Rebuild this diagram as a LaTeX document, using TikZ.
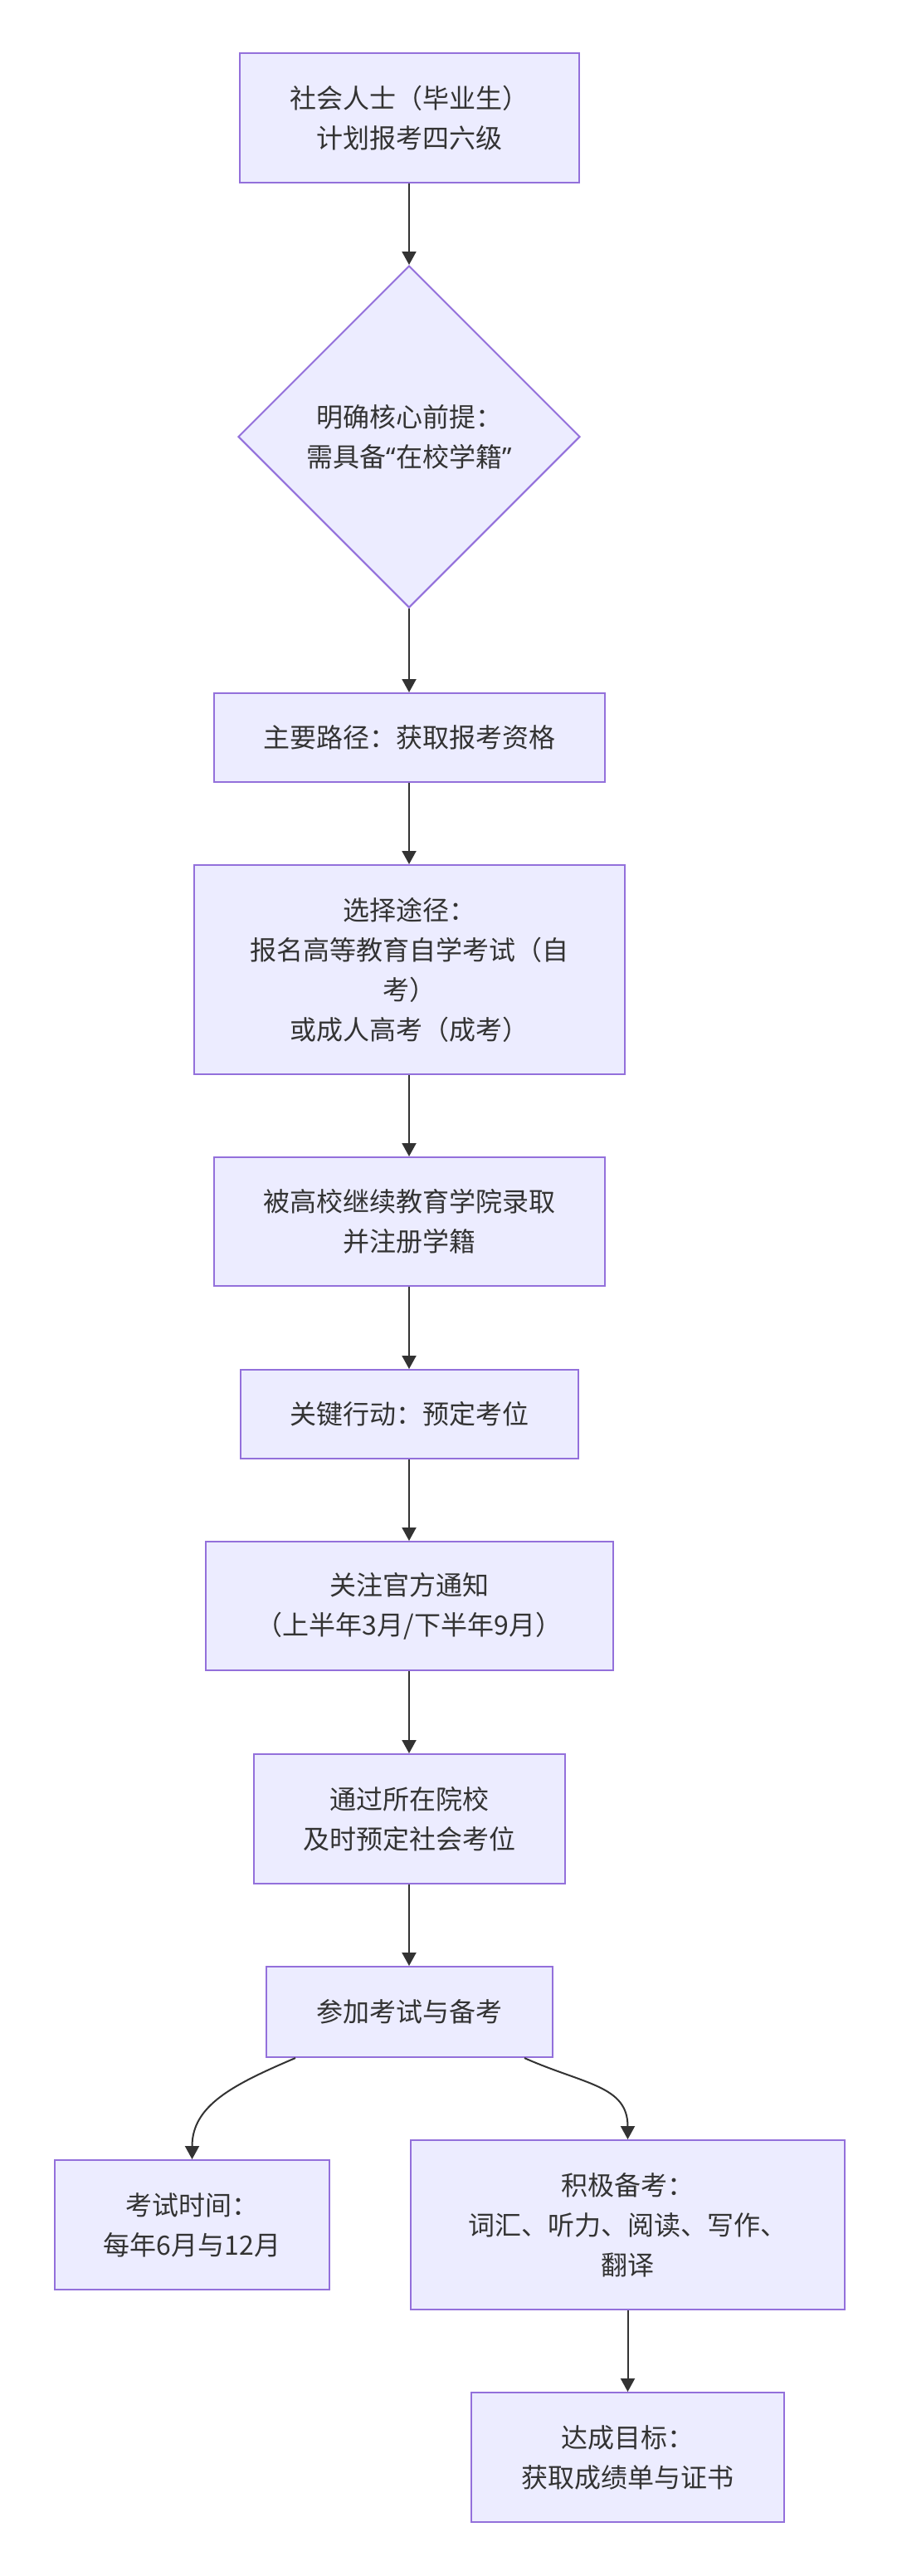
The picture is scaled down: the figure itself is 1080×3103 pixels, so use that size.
\documentclass[tikz,border=0pt]{standalone}
\usepackage{fontspec}
\newfontfamily\cjk{Noto Sans CJK SC}
\newfontfamily\latq{Noto Sans}
\usetikzlibrary{shapes.geometric,arrows.meta}
\definecolor{boxfill}{HTML}{ECECFF}
\definecolor{boxline}{HTML}{9370DB}
\definecolor{txtc}{HTML}{333333}
\definecolor{edgec}{HTML}{333333}
\begin{document}
\begin{tikzpicture}[x=1pt,y=-1pt,
 box/.style={draw=boxline, fill=boxfill, line width=2pt, text=txtc,
   font=\cjk\fontsize{32}{48}\selectfont, align=center, inner sep=0pt, rectangle},
 dia/.style={box, diamond, aspect=1},
 link/.style={draw=edgec, line width=2pt, -{Triangle[length=16pt,width=17pt]}}]
\path[use as bounding box, fill=white] (0,0) rectangle (1080,3103);

\node[box, minimum width=409pt, minimum height=156pt] (n1) at (493,142) {社会人士（毕业生）\\计划报考四六级};
\node[dia, minimum width=412pt, minimum height=412pt] (n2) at (493,526) {明确核心前提：\\需具备{\latq “}在校学籍{\latq ”}};
\node[box, minimum width=471pt, minimum height=107pt] (n3) at (493,888.5) {主要路径：获取报考资格};
\node[box, minimum width=519pt, minimum height=252pt] (n4) at (493,1168) {选择途径：\\报名高等教育自学考试（自\\考）\\或成人高考（成考）};
\node[box, minimum width=471pt, minimum height=155pt] (n5) at (493,1471.5) {被高校继续教育学院录取\\并注册学籍};
\node[box, minimum width=407pt, minimum height=107pt] (n6) at (493,1703.5) {关键行动：预定考位};
\node[box, minimum width=491pt, minimum height=155pt] (n7) at (493,1934.5) {关注官方通知\\（上半年3月/下半年9月）};
\node[box, minimum width=375pt, minimum height=156pt] (n8) at (493,2191) {通过所在院校\\及时预定社会考位};
\node[box, minimum width=345pt, minimum height=109pt] (n9) at (493,2423.5) {参加考试与备考};
\node[box, minimum width=331pt, minimum height=156pt] (n10) at (231.5,2680) {考试时间：\\每年6月与12月};
\node[box, minimum width=523pt, minimum height=204pt] (n11) at (756.5,2680) {积极备考：\\词汇、听力、阅读、写作、\\翻译};
\node[box, minimum width=377pt, minimum height=156pt] (n12) at (756.5,2960) {达成目标：\\获取成绩单与证书};

\draw[link] (n1) -- (n2);
\draw[link] (n2) -- (n3);
\draw[link] (n3) -- (n4);
\draw[link] (n4) -- (n5);
\draw[link] (n5) -- (n6);
\draw[link] (n6) -- (n7);
\draw[link] (n7) -- (n8);
\draw[link] (n8) -- (n9);
\draw[link] ([xshift=-137pt]n9.south) .. controls +(-75,32) and +(0,-65) .. (n10.north);
\draw[link] ([xshift=139pt]n9.south) .. controls +(72,32) and +(0,-65) .. (n11.north);
\draw[link] (n11) -- (n12);
\end{tikzpicture}
\end{document}
